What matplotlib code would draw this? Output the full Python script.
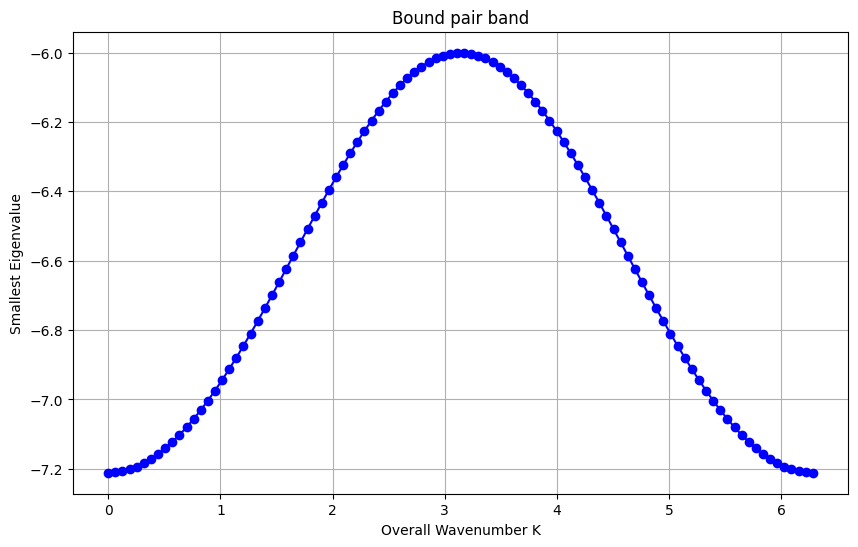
import numpy as np
import matplotlib
matplotlib.use("Agg")
import matplotlib.pyplot as plt

# overall wavenumber grid, 100 points from 0 to 2*pi
n_points = 100
K = np.linspace(0, 2 * np.pi, n_points)

# smallest eigenvalue, first half (the band is symmetric about K = pi)
half_band = [
    -7.2111, -7.2100, -7.2066, -7.2011, -7.1933, -7.1834, -7.1713, -7.1571,
    -7.1408, -7.1225, -7.1023, -7.0801, -7.0562, -7.0305, -7.0032, -6.9742,
    -6.9439, -6.9121, -6.8792, -6.8451, -6.8099, -6.7739, -6.7372, -6.6998,
    -6.6619, -6.6237, -6.5853, -6.5469, -6.5086, -6.4706, -6.4330, -6.3960,
    -6.3598, -6.3246, -6.2904, -6.2574, -6.2258, -6.1958, -6.1675, -6.1410,
    -6.1164, -6.0939, -6.0736, -6.0556, -6.0401, -6.0270, -6.0164, -6.0084,
    -6.0030, -6.0003,
]
eigenvalues = half_band + half_band[::-1]

plt.figure(figsize=(10, 6))
plt.plot(K, eigenvalues, 'o-', color='blue')
plt.title('Bound pair band')
plt.xlabel('Overall Wavenumber K')
plt.ylabel('Smallest Eigenvalue')
plt.grid(True)
plt.savefig('out.png', bbox_inches='tight')
